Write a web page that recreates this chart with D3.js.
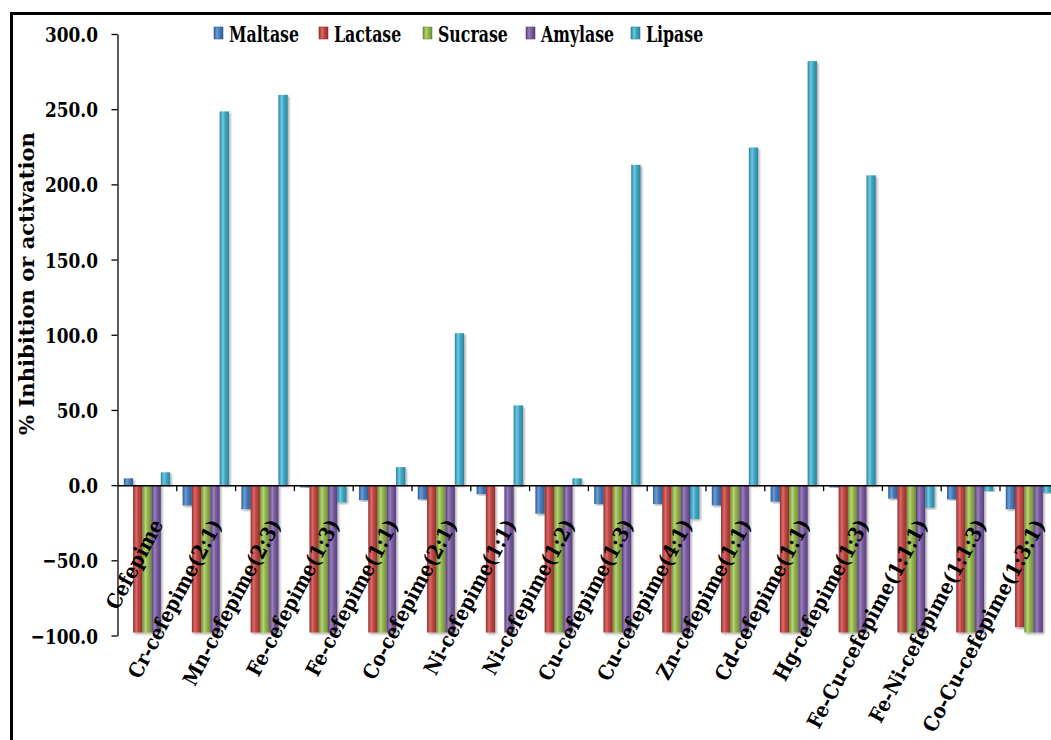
<!DOCTYPE html>
<html>
<head>
<meta charset="utf-8">
<script src="https://cdn.jsdelivr.net/npm/d3@7"></script>
<style>
  html, body { margin: 0; padding: 0; background: #fff; }
  svg { display: block; }
  text { font-family: "DejaVu Serif", serif; font-weight: bold; fill: #000; }
</style>
</head>
<body>
<script>
const categories = ["Cefepime", "Cr-cefepime(2:1)", "Mn-cefepime(2:3)", "Fe-cefepime(1:3)", "Fe-cefepime(1:1)",
  "Co-cefepime(2:1)", "Ni-cefepime(1:1)", "Ni-cefepime(1:2)", "Cu-cefepime(1:3)", "Cu-cefepime(4:1)",
  "Zn-cefepime(1:1)", "Cd-cefepime(1:1)", "Hg-cefepime(1:3)", "Fe-Cu-cefepime(1:1:1)", "Fe-Ni-cefepime(1:1:3)",
  "Co-Cu-cefepime(1:3:1)"];
const seriesNames = ["Maltase", "Lactase", "Sucrase", "Amylase", "Lipase"];
const maltase = [4.5, -13.5, -16, -1.5, -10, -9.5, -6, -19, -12.5, -12.5, -13.5, -11, -1.5, -9, -9.5, -16];
const lactase = [-98, -98, -98, -98, -98, -98, -98, -98, -98, -98, -98, -98, -98, -98, -98, -94.5];
const sucrase = [-98, -98, -98, -98, -98, -98, 0, -98, -98, -98, -98, -98, -98, -98, -98, -98];
const amylase = [-98, -98, -98, -98, -98, -98, -98, -98, -98, -98, -98, -98, -98, -98, -98, -98];
const lipase = [8.5, 248.5, 259.5, -11.5, 12, 101, 53, 4.5, 213, -22.5, 224.5, 282, 206, -15, -4, -5];
const yTicks = [-100, -50, 0, 50, 100, 150, 200, 250, 300];
const yTitle = "% Inhibition or activation";

const seriesValues = [maltase, lactase, sucrase, amylase, lipase];
const colors = ["#4A7EBB", "#BE4B48", "#98B954", "#7D60A0", "#46AAC5"];
const darks  = ["#2F5F97", "#962E2C", "#6F8C33", "#5A3F7C", "#2A839C"];
const lights = ["#6E9ED6", "#DC6B68", "#B6D675", "#9B80BF", "#6CCBE2"];

// approximate Times-Bold advance widths (em), used to give DejaVu Serif text Times-like proportions
const timesW = { "C": .722, "r": .444, "-": .333, "c": .444, "e": .444, "f": .333, "p": .556, "i": .278, "m": .833,
  "(": .333, ")": .333, ":": .333, "M": .944, "n": .556, "F": .611, "o": .5, "N": .722, "u": .556, "Z": .667,
  "d": .556, "H": .778, "g": .5 };
const timesLen = s => Array.from(s).reduce((a, ch) => a + (timesW[ch] !== undefined ? timesW[ch] : .5), 0);

const W = 1051, H = 740;
const svg = d3.select("body").append("svg").attr("width", W).attr("height", H);
const defs = svg.append("defs");

const f = defs.append("filter").attr("id", "sh").attr("x", "-30%").attr("y", "-10%").attr("width", "160%").attr("height", "120%");
f.append("feDropShadow").attr("dx", 1.5).attr("dy", 1.5).attr("stdDeviation", 1.2).attr("flood-color", "#000").attr("flood-opacity", 0.35);

seriesNames.forEach((s, i) => {
  const g = defs.append("linearGradient").attr("id", "g" + i).attr("x1", 0).attr("x2", 1).attr("y1", 0).attr("y2", 0);
  g.append("stop").attr("offset", "0%").attr("stop-color", darks[i]);
  g.append("stop").attr("offset", "35%").attr("stop-color", lights[i]);
  g.append("stop").attr("offset", "55%").attr("stop-color", colors[i]);
  g.append("stop").attr("offset", "100%").attr("stop-color", darks[i]);
});

function measure(sample, size) {
  const t = svg.append("text").style("font-size", size + "px").text(sample);
  const L = t.node().getComputedTextLength();
  t.remove();
  return L;
}
const fitFactor = (sample, size, target) => target / measure(sample, size);

svg.append("rect").attr("x", 11.5).attr("y", 13.5).attr("width", 1200).attr("height", 900)
  .attr("fill", "none").attr("stroke", "#000").attr("stroke-width", 3);

const x0 = 117.5, step = 58.8;
const x = d3.scaleBand().domain(categories).range([x0, x0 + step * categories.length]).paddingInner(0).paddingOuter(0);
const xs = d3.scaleBand().domain(seriesNames).range([6.3, 52.6]).padding(0);
const y = d3.scaleLinear().domain([-100, 300]).range([635.5, 34]);
const zeroY = y(0);

// bars
const groups = svg.append("g").selectAll("g").data(categories).join("g")
  .attr("transform", d => `translate(${x(d)},0)`);
groups.selectAll("rect").data((d, ci) => seriesNames.map((s, si) => ({ s, si, v: seriesValues[si][ci] })))
  .join("rect")
  .filter(d => d.v !== 0)
  .attr("x", d => xs(d.s))
  .attr("width", xs.bandwidth())
  .attr("y", d => Math.min(y(d.v), zeroY))
  .attr("height", d => Math.abs(y(d.v) - zeroY))
  .attr("fill", d => `url(#g${d.si})`)
  .attr("filter", "url(#sh)");

// y axis
const tickSize = 21;
const tickSx = fitFactor("300.0", tickSize, 53);
const yAxis = svg.append("g").attr("transform", `translate(${x0},0)`)
  .call(d3.axisLeft(y).tickValues(yTicks).tickFormat(d3.format(".1f")).tickSize(6).tickSizeOuter(0));
yAxis.attr("font-family", null).attr("font-size", null);
yAxis.select(".domain").attr("stroke", "#000").attr("stroke-width", 1.3);
yAxis.selectAll(".tick line").attr("stroke", "#000").attr("stroke-width", 1.3);
yAxis.selectAll(".tick text").attr("x", null).attr("dy", "0.36em")
  .attr("transform", `translate(-19.5,0) scale(${tickSx},1)`)
  .style("font-size", tickSize + "px");

// x axis (at zero)
const xb = d3.scaleLinear().domain([0, categories.length]).range([x0, x0 + step * categories.length]);
const xAxis = svg.append("g").attr("transform", `translate(0,${zeroY})`)
  .call(d3.axisBottom(xb).tickValues(d3.range(1, categories.length)).tickFormat("").tickSize(6).tickSizeOuter(0));
xAxis.select(".domain").attr("stroke", "#000").attr("stroke-width", 1.5);
xAxis.selectAll(".tick line").attr("stroke", "#000").attr("stroke-width", 1.3);

// category labels
const labSize = 20.5, labEm = 24.3, labAngle = -62;
svg.append("g").selectAll("g").data(categories).join("g")
  .attr("transform", d => `translate(${x(d) + x.bandwidth() / 2 + 17},${zeroY + 39})`)
  .append("text")
  .attr("text-anchor", "end")
  .attr("transform", d => `rotate(${labAngle}) scale(${timesLen(d) * labEm / measure(d, labSize)},1)`)
  .style("font-size", labSize + "px")
  .text(d => d);

// y title
const titleSize = 20.5;
const titleSx = fitFactor(yTitle, titleSize, 303);
svg.append("g").attr("transform", `translate(33.5,283.5)`)
  .append("text").attr("text-anchor", "middle")
  .attr("transform", `rotate(-90) scale(${titleSx},1)`)
  .style("font-size", titleSize + "px")
  .text(yTitle);

// legend
const legSize = 22;
const legSx = fitFactor("Maltase", legSize, 70);
const legX = [214, 319, 423, 526, 631];
const leg = svg.append("g").selectAll("g").data(seriesNames).join("g")
  .attr("transform", (d, i) => `translate(${legX[i]},27)`);
leg.append("rect").attr("width", 9).attr("height", 12).attr("fill", (d, i) => `url(#g${i})`)
  .attr("stroke", (d, i) => darks[i]).attr("stroke-width", 0.6);
leg.append("text").attr("transform", `translate(15,14.7) scale(${legSx},1)`)
  .style("font-size", legSize + "px").text(d => d);
</script>
</body>
</html>
